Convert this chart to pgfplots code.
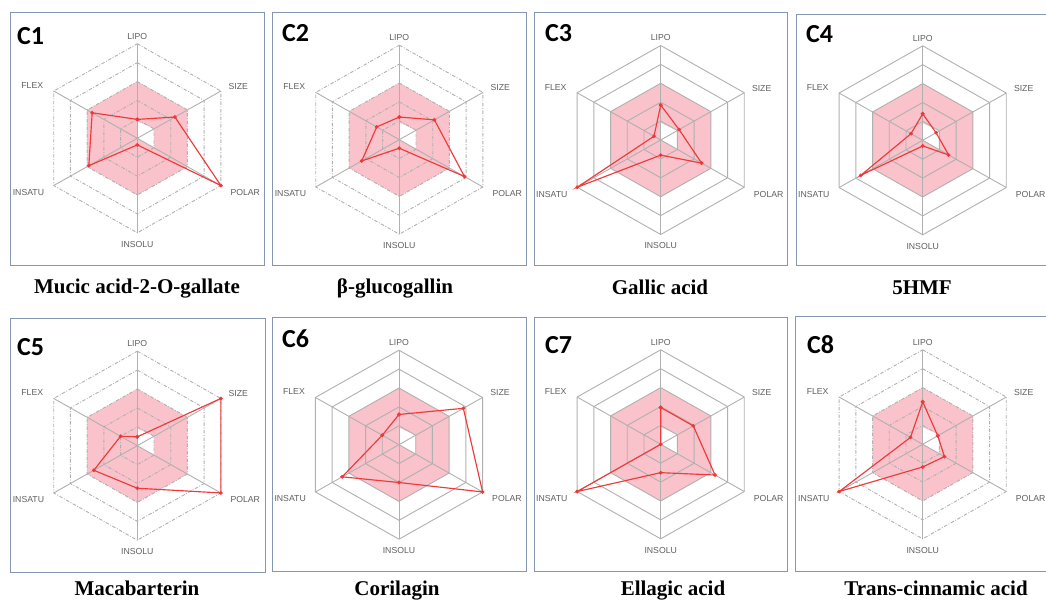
\documentclass[border=0pt]{standalone}
\usepackage{pgfplots}
\pgfplotsset{compat=1.18}
\usepackage{fontspec}
\setmainfont{Liberation Serif}
\newfontfamily\labfont{Liberation Sans}
\newfontfamily\panelfont{Carlito}

\definecolor{framecol}{RGB}{132,150,176}
\definecolor{zonecol}{RGB}{250,194,202}
\definecolor{gridcol}{RGB}{176,176,176}
\definecolor{labcol}{RGB}{95,95,95}
\definecolor{trace}{RGB}{238,58,58}
\definecolor{tracemark}{RGB}{175,20,20}

\pgfplotsset{
  radar/.style={
    hide axis, clip=false, scale only axis,
    x=19.3pt, y=18.9pt,
    xmin=-5, xmax=5, ymin=-5, ymax=5,
    anchor=origin,
  },
  gridline/.style={draw=gridcol, line width=0.9pt},
  dashring/.style={dash pattern=on 3.5pt off 1.6pt on 0.9pt off 1.6pt},
  solidring/.style={},
  profile/.style={draw=trace, line width=1.15pt, mark=*, mark size=1.25pt,
    mark options={fill=tracemark, draw=none, solid}, data cs=polar},
}

% optimal zone, rings, spokes and axis names of one radar
\newcommand\radarbase[1]{%
  \addplot[draw=none, fill=zonecol, data cs=polar]
    coordinates {(90,3) (30,3) (-30,3) (-90,3) (-150,3) (150,3)};
  \addplot[draw=none, fill=white, data cs=polar]
    coordinates {(90,0.9) (30,1) (-30,1) (-90,0) (-150,0) (150,0)};
  \pgfplotsinvokeforeach{1,...,5}{%
    \addplot[gridline, #1, data cs=polar]
      coordinates {(90,##1) (30,##1) (-30,##1) (-90,##1) (-150,##1) (150,##1) (90,##1)};
  }
  \addplot[gridline, data cs=polar] coordinates {(90,5) (270,5)};
  \addplot[gridline, data cs=polar] coordinates {(30,5) (210,5)};
  \addplot[gridline, data cs=polar] coordinates {(150,5) (330,5)};
  \node[lab, anchor=center] at (axis cs:0,5.4) {LIPO};
  \node[lab, anchor=west] at (axis cs:4.72,2.75) {SIZE};
  \node[lab, anchor=west] at (axis cs:4.82,-2.86) {POLAR};
  \node[lab, anchor=center] at (axis cs:0,-5.6) {INSOLU};
  \node[lab, anchor=east] at (axis cs:-4.87,2.8) {FLEX};
  \node[lab, anchor=east] at (axis cs:-4.82,-2.86) {INSATU};
}

\tikzset{
  lab/.style={font=\labfont\fontsize{8.7}{9}\selectfont, text=labcol, inner sep=0pt},
  tag/.style={anchor=base west, inner sep=0pt, font=\panelfont\bfseries\fontsize{26}{26}\selectfont},
  caption/.style={anchor=base, inner sep=0pt, font=\bfseries\fontsize{21}{21}\selectfont},
  panel/.style={draw=framecol, line width=1pt},
}

\begin{document}
\begin{tikzpicture}
% panel frames
\draw[panel] (10pt,-13pt) rectangle (264pt,-266pt);
\draw[panel] (272pt,-13pt) rectangle (526pt,-266pt);
\draw[panel] (534pt,-13pt) rectangle (787pt,-266pt);
\draw[panel] (796pt,-15pt) rectangle (1052pt,-266pt);
\draw[panel] (10pt,-319pt) rectangle (265pt,-572pt);
\draw[panel] (272pt,-318pt) rectangle (526pt,-571pt);
\draw[panel] (534pt,-318pt) rectangle (787pt,-571pt);
\draw[panel] (795pt,-317pt) rectangle (1052pt,-571pt);

% order of the axes: LIPO, SIZE, POLAR, INSOLU, INSATU, FLEX
\begin{axis}[radar, at={(137.3pt,-138.3pt)}]
  \radarbase{dashring}
  \addplot[profile] coordinates {(90,1.0) (30,2.25) (-30,5) (-90,0.35) (-150,2.9) (150,2.7) (90,1.0)};
\end{axis}
\begin{axis}[radar, at={(399.3pt,-139.7pt)}]
  \radarbase{dashring}
  \addplot[profile] coordinates {(90,1.2) (30,2.1) (-30,3.9) (-90,0.45) (-150,2.25) (150,1.35) (90,1.2)};
\end{axis}
\begin{axis}[radar, at={(660.7pt,-140pt)}]
  \radarbase{solidring}
  \addplot[profile] coordinates {(90,1.85) (30,1.1) (-30,2.45) (-90,0.8) (-150,5) (150,0.4) (90,1.85)};
\end{axis}
\begin{axis}[radar, at={(922.7pt,-140.3pt)}]
  \radarbase{solidring}
  \addplot[profile] coordinates {(90,1.4) (30,0.8) (-30,1.55) (-90,0.3) (-150,3.7) (150,0.7) (90,1.4)};
\end{axis}
\begin{axis}[radar, at={(137.3pt,-445.7pt)}]
  \radarbase{dashring}
  \addplot[profile] coordinates {(90,0.47) (30,5) (-30,5) (-90,2.25) (-150,2.6) (150,1.0) (90,0.47)};
\end{axis}
\begin{axis}[radar, at={(399pt,-444.7pt)}]
  \radarbase{solidring}
  \addplot[profile] coordinates {(90,1.6) (30,3.85) (-30,5) (-90,2.0) (-150,3.4) (150,1.0) (90,1.6)};
\end{axis}
\begin{axis}[radar, at={(660.7pt,-444.3pt)}]
  \radarbase{solidring}
  \addplot[profile] coordinates {(90,1.95) (30,1.95) (-30,3.25) (-90,1.5) (-150,5) (150,0) (90,1.95)};
\end{axis}
\begin{axis}[radar, at={(922.7pt,-444.3pt)}]
  \radarbase{dashring}
  \addplot[profile] coordinates {(90,2.25) (30,0.9) (-30,1.3) (-90,1.2) (-150,5) (150,0.73) (90,2.25)};
\end{axis}

% panel tags
\node[tag] at (17pt,-45pt) {C1};
\node[tag] at (282pt,-42pt) {C2};
\node[tag] at (545pt,-42pt) {C3};
\node[tag] at (806pt,-43pt) {C4};
\node[tag] at (17pt,-355pt) {C5};
\node[tag] at (282pt,-348pt) {C6};
\node[tag] at (545pt,-353pt) {C7};
\node[tag] at (807pt,-353pt) {C8};

% compound names
\node[caption] at (137pt,-294pt) {Mucic acid-2-O-gallate};
\node[caption] at (395pt,-294pt) {β-glucogallin};
\node[caption] at (660pt,-295pt) {Gallic acid};
\node[caption] at (922pt,-295pt) {5HMF};
\node[caption] at (137pt,-595pt) {Macabarterin};
\node[caption] at (397pt,-595pt) {Corilagin};
\node[caption] at (673pt,-595pt) {Ellagic acid};
\node[caption] at (936pt,-595pt) {Trans-cinnamic acid};

\pgfresetboundingbox
\path[use as bounding box] (0pt,0pt) rectangle (1046pt,-601pt);
\end{tikzpicture}
\end{document}
